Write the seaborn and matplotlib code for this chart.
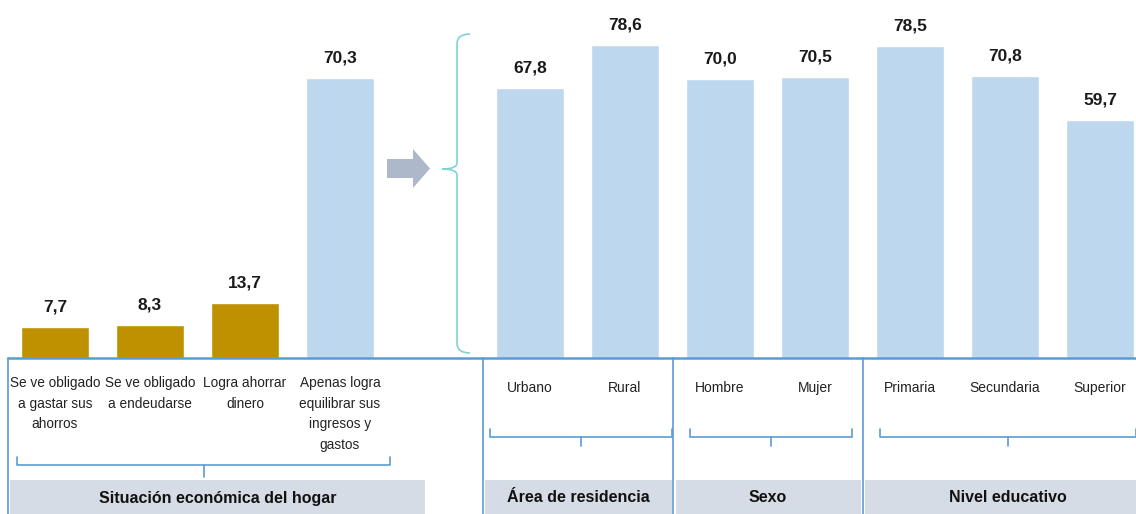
import matplotlib
matplotlib.use('Agg')
import matplotlib.pyplot as plt
from matplotlib.path import Path
from matplotlib.patches import PathPatch, Polygon, Rectangle
import pandas as pd
import seaborn as sns

# ------------------------------------------------------------
# data
# ------------------------------------------------------------
categorias = ['Se ve obligado\na gastar sus\nahorros', 'Se ve obligado\na endeudarse',
              'Logra ahorrar\ndinero', 'Apenas logra\nequilibrar sus\ningresos y\ngastos',
              'Urbano', 'Rural', 'Hombre', 'Mujer',
              'Primaria', 'Secundaria', 'Superior']
valores = [7.7, 8.3, 13.7, 70.3, 67.8, 78.6, 70.0, 70.5, 78.5, 70.8, 59.7]
posiciones = [0, 1, 2, 3, 5, 6, 7, 8, 9, 10, 11]
tipo = ['otra'] * 3 + ['equilibra'] * 8
grupos = ['Situación económica del hogar', 'Área de residencia', 'Sexo', 'Nivel educativo']

df = pd.DataFrame({'pos': posiciones, 'valor': valores, 'tipo': tipo, 'cat': categorias})

ORO = '#BF9000'
AZUL = '#BDD7EE'
LINEA = '#5B9BD5'
GRIS = '#D6DCE5'

sns.set_theme(style='white')
plt.rcParams['font.family'] = ['Liberation Sans', 'DejaVu Sans']

fig = plt.figure(figsize=(11.36, 5.14), dpi=100)
# axes: baseline at pixel 358, 3.98 px per unit, bar i centred at 55 + 95*i px
base_px, ppu = 358, 3.98
ax = fig.add_axes([0, (514 - base_px) / 514, 1, base_px / 514])


def px(x):
    return (x - 55) / 95


def py(y):
    return (base_px - y) / ppu


sns.barplot(data=df, x='pos', y='valor', hue='tipo', palette={'otra': ORO, 'equilibra': AZUL},
            native_scale=True, width=0.72, dodge=False, legend=False, saturation=1, ax=ax)

ax.set_xlim(px(0), px(1136))
ax.set_ylim(0, py(0))
ax.set_axis_off()

for p, v in zip(posiciones, valores):
    ax.annotate(f'{v:.1f}'.replace('.', ','), (p, v), xytext=(0, 9), textcoords='offset points',
                ha='center', va='bottom', fontsize=12.5, fontweight='bold', color='#1a1a1a')

# baseline and separators
kw = dict(clip_on=False, color=LINEA, lw=1.2)
ax.plot([px(8), px(1136)], [0, 0], lw=1.8, color=LINEA, clip_on=False)
for xs in [8, 483, 673, 863]:
    ax.plot([px(xs), px(xs)], [0, py(514)], **kw)

# category labels
for p, c in zip(posiciones, categorias):
    if p < 4:
        ax.text(p, py(376), c, ha='center', va='top', fontsize=9.8, color='#222222',
                linespacing=1.6, clip_on=False)
    else:
        ax.text(p, py(388), c, ha='center', va='center', fontsize=10, color='#222222',
                clip_on=False)

# braces under labels
llaves = [(17, 390, 465, 477), (490, 672, 437, 446), (690, 852, 437, 446), (880, 1136, 437, 446)]
for x0, x1, yb, yt in llaves:
    xm = (x0 + x1) / 2
    ax.plot([px(x0), px(x0), px(x1), px(x1)], [py(yb - 8), py(yb), py(yb), py(yb - 8)], **kw)
    ax.plot([px(xm), px(xm)], [py(yb), py(yt)], **kw)

# grey group boxes
cajas = [(10, 425), (485, 672), (676, 861), (865, 1136)]
centros = [218, 578, 768, 1008]
for (x0, x1), xc, g in zip(cajas, centros, grupos):
    ax.add_patch(Rectangle((px(x0), py(514)), px(x1) - px(x0), py(480) - py(514),
                           facecolor=GRIS, edgecolor='none', clip_on=False))
    ax.text(px(xc), py(498), g, ha='center', va='center', fontsize=11.5, fontweight='bold',
            color='#111111', clip_on=False)

# arrow
flecha = [(387, 159), (413, 159), (413, 149), (430, 168.5), (413, 188), (413, 178), (387, 178)]
ax.add_patch(Polygon([(px(a), py(b)) for a, b in flecha], closed=True, facecolor='#ADB9CA',
                     edgecolor='none', clip_on=False))

# big curly brace
pts = [(470, 34), (457, 34), (457, 44),
       (457, 163),
       (457, 169), (442, 169),
       (457, 169), (457, 175),
       (457, 343),
       (457, 353), (470, 353)]
codes = [Path.MOVETO, Path.CURVE3, Path.CURVE3,
         Path.LINETO,
         Path.CURVE3, Path.CURVE3,
         Path.CURVE3, Path.CURVE3,
         Path.LINETO,
         Path.CURVE3, Path.CURVE3]
ax.add_patch(PathPatch(Path([(px(a), py(b)) for a, b in pts], codes), facecolor='none',
                       edgecolor='#7FD3D6', lw=1.2, clip_on=False))

fig.savefig('out.png', dpi=100)
